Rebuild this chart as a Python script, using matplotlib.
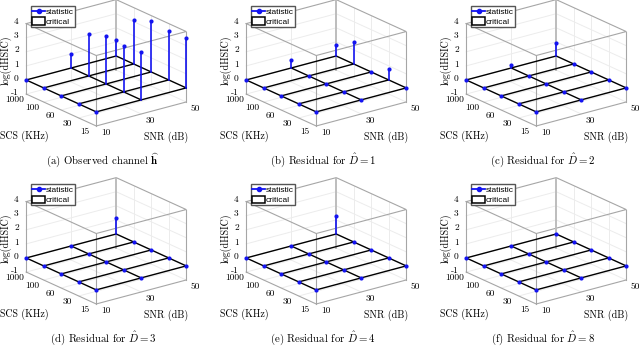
import matplotlib
matplotlib.use('Agg')
import matplotlib.pyplot as plt
from matplotlib.lines import Line2D
from matplotlib.patches import Patch
from mpl_toolkits.mplot3d import proj3d

plt.rcParams['mathtext.fontset'] = 'cm'
plt.rcParams['axes.formatter.use_mathtext'] = True

# SNR in dB, SCS tick labels are evenly spaced categories
snr_vals = [10, 30, 50]
scs_labels = ['15', '30', '60', '100', '1000']
z_vals = [-1, 0, 1, 2, 3, 4]

# statistic per SNR, SCS order is 15 -> 1000
zeros = [0, 0, 0, 0, 0]
stat_a = [zeros, [3.38, 3.29, 3.43, 2.95, 1.02], [3.55, 3.45, 3.6, 3.1, 1.1]]
stat_b = [zeros, [0, 0, 0, 0, 0.55], [0, 0.8, 0, 1.55, 0.8]]
stat_c = [zeros, [0, 0, 0, 0, 0.2], [0, 0, 0, 0, 0.9]]
stat_d = [zeros, zeros, [0, 0, 0, 0, 1.15]]
stat_e = [zeros, zeros, [0, 0, 0, 0, 1.3]]
stat_f = [zeros, zeros, zeros]

captions = [r'(a) Observed channel $\widehat{\mathbf{h}}$',
            r'(b) Residual for $\hat{D}=1$',
            r'(c) Residual for $\hat{D}=2$',
            r'(d) Residual for $\hat{D}=3$',
            r'(e) Residual for $\hat{D}=4$',
            r'(f) Residual for $\hat{D}=8$']
stats = [stat_a, stat_b, stat_c, stat_d, stat_e, stat_f]

W, H = 640, 354
BLUE = '#1414f0'
GRAY = '#a6a6a6'
GRID = '#ececec'
SERIF = 'cmr10'


def label3d(ax, x, y, z, text, off, **kw):
    # 2D text anchored to a projected 3D point, offset in pixels
    xs, ys, _ = proj3d.proj_transform(x, y, z, ax.get_proj())
    ax.annotate(text, (xs, ys), xytext=off, textcoords='offset pixels',
                family=SERIF, va='center', annotation_clip=False, zorder=6, **kw)


def draw_panel(fig, stat, caption, dx, dy):
    size = 200
    cx, cy = 103.5 + dx, 65.5 + dy
    ax = fig.add_axes([(cx - size / 2) / W, 1 - (cy + size / 2) / H, size / W, size / H],
                      projection='3d', proj_type='ortho')
    ax.set_box_aspect((113, 115, 75), zoom=0.865)
    ax.view_init(elev=20.4, azim=-127.4)
    ax.set_axis_off()
    ax.computed_zorder = False
    ax.patch.set_alpha(0)
    x0, x1 = snr_vals[0], snr_vals[-1]
    y0, y1 = 0, len(scs_labels) - 1
    z0, z1 = z_vals[0], z_vals[-1]
    ax.set_xlim(x0, x1)
    ax.set_ylim(y0, y1)
    ax.set_zlim(z0, z1)

    # wall and floor grid
    for z in z_vals[1:-1]:
        ax.plot([x0, x1], [y1, y1], [z, z], color=GRID, lw=0.7, zorder=1)
        ax.plot([x1, x1], [y0, y1], [z, z], color=GRID, lw=0.7, zorder=1)
    for x in snr_vals[1:]:
        ax.plot([x, x], [y0, y1], [z0, z0], color=GRID, lw=0.7, zorder=1)
        ax.plot([x, x], [y1, y1], [z0, z1], color=GRID, lw=0.7, zorder=1)
    for y in range(1, len(scs_labels)):
        ax.plot([x0, x1], [y, y], [z0, z0], color=GRID, lw=0.7, zorder=1)
        ax.plot([x1, x1], [y, y], [z0, z1], color=GRID, lw=0.7, zorder=1)

    # box edges
    top = [(x0, y1), (x1, y1), (x1, y0), (x0, y0), (x0, y1)]
    ax.plot([p[0] for p in top], [p[1] for p in top], [z1] * 5, color=GRAY, lw=0.8, zorder=2)
    ax.plot([x0, x0, x1], [y1, y0, y0], [z0, z0, z0], color=GRAY, lw=0.8, zorder=2)
    ax.plot([x1, x1], [y1, y1], [z0, z1], color='#bdbdbd', lw=1.4, zorder=2)
    ax.plot([x0, x0], [y1, y1], [z0, z1], color=GRAY, lw=0.8, zorder=2)
    ax.plot([x1, x1], [y0, y0], [z0, z1], color=GRAY, lw=0.8, zorder=2)
    ax.plot([x0, x0], [y0, y0], [z0, z1], color=GRAY, lw=0.8, zorder=2)

    # critical surface at zero
    for x in snr_vals:
        ax.plot([x, x], [y0, y1], [0, 0], color='black', lw=1.0, zorder=3)
    for y in range(len(scs_labels)):
        ax.plot([x0, x1], [y, y], [0, 0], color='black', lw=1.0, zorder=3)

    # statistic stems
    for i, x in enumerate(snr_vals):
        for j, v in enumerate(stat[i]):
            ax.plot([x, x], [j, j], [0, v], color=BLUE, lw=1.2, zorder=4)
            ax.plot([x], [j], [v], 'o', color=BLUE, ms=3.0, mew=0, zorder=5)

    # tick labels
    for z in z_vals:
        label3d(ax, x0, y1, z, str(z), (-7.5, 1.5), ha='right', fontsize=6.8)
    for j, lab in enumerate(scs_labels):
        label3d(ax, x0, j, z0, lab, (-11.3, -6), ha='center', fontsize=6.8)
    for x in snr_vals:
        label3d(ax, x, y0, z0, str(x), (9.5, -6.7), ha='center', fontsize=6.8)
    label3d(ax, x0, y1, 1.5, 'log(dHSIC)', (-20, -1), ha='center', rotation=90, fontsize=7.2)
    label3d(ax, x0, y0, z0, 'SCS (KHz)', (-72, -10.5), ha='center', fontsize=7.2)
    label3d(ax, x0, y0, z0, 'SNR (dB)', (69.5, -11.3), ha='center', fontsize=7.2)

    handles = [Line2D([], [], color=BLUE, lw=1.3, marker='o', ms=3),
               Patch(facecolor='white', edgecolor='black', lw=1.1)]
    ax.legend(handles, ['statistic', 'critical'], loc='upper left',
              bbox_to_anchor=((31 + dx) / W, 1 - (6 + dy) / H),
              bbox_transform=fig.transFigure, borderaxespad=0,
              borderpad=0.15, labelspacing=0.2, handlelength=1.5, handleheight=1.0,
              handletextpad=0.1, fancybox=False, framealpha=1, edgecolor='#555555',
              prop={'family': 'Liberation Sans', 'size': 6.0})

    fig.text((103 + dx) / W, 1 - (160 + dy) / H, caption, ha='center', va='center',
             family=SERIF, fontsize=7.8)
    return ax


fig = plt.figure(figsize=(6.4, 3.54), dpi=100)
offsets = [(0, 0), (220, 0), (440, 0), (0, 178), (220, 178), (440, 178)]
for s, c, (dx, dy) in zip(stats, captions, offsets):
    draw_panel(fig, s, c, dx, dy)
fig.savefig('out.png', dpi=100)
